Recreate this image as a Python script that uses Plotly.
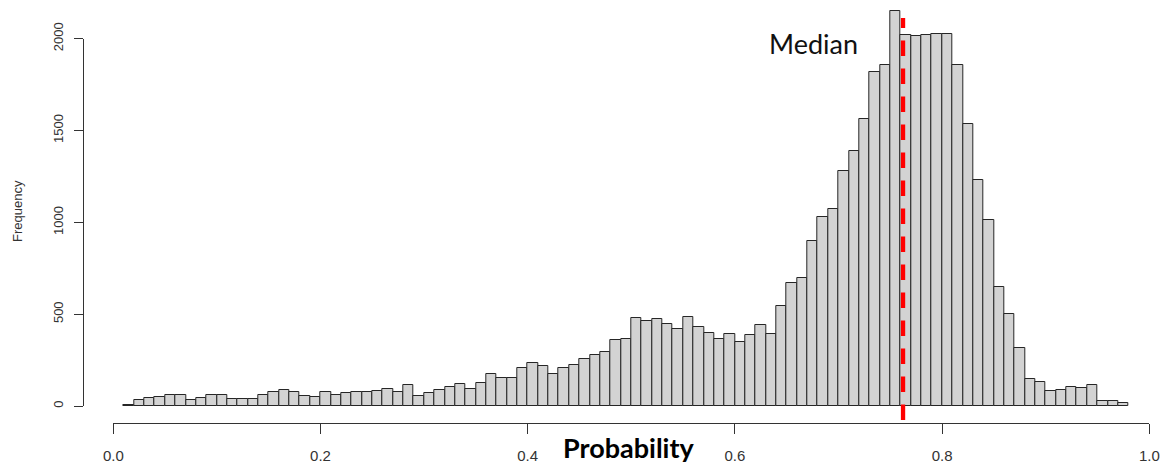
import plotly.graph_objects as go

# ---- data ----
bin_start = 0.01
bin_width = 0.01
counts = [4, 31, 44, 49, 58, 58, 31, 42, 58, 58,
          36, 36, 36, 58, 75, 87, 75, 55, 49, 75,
          58, 69, 75, 75, 84, 93, 75, 115, 53, 69,
          87, 104, 118, 93, 126, 175, 153, 153, 208, 235,
          219, 175, 208, 225, 254, 279, 295, 361, 366, 481,
          464, 475, 448, 421, 486, 432, 399, 366, 393, 350,
          384, 443, 394, 546, 672, 699, 898, 1029, 1073, 1277,
          1388, 1563, 1821, 1855, 2150, 2018, 2013, 2018, 2024, 2024,
          1855, 1535, 1233, 1013, 650, 503, 314, 146, 129, 80,
          86, 104, 97, 115, 26, 26, 15]
centers = [round(bin_start + bin_width * (i + 0.5), 4) for i in range(len(counts))]
median_value = 0.7623
x_ticks = [0.0, 0.2, 0.4, 0.6, 0.8, 1.0]
x_tick_labels = ["0.0", "0.2", "0.4", "0.6", "0.8", "1.0"]
y_ticks = [0, 500, 1000, 1500, 2000]
y_tick_labels = ["0", "500", "1000", "1500", "2000"]

# ---- pixel layout helpers (screen pixels, page has an 8px body margin) ----
OFF = 8
W, H = 1168 - OFF, 466 - OFF
x0_px, x1_px = 113.3, 1149.3       # x=0 and x=1
y0_px, y2000_px = 406.0, 38.7      # count 0 and 2000
k = (y0_px - y2000_px) / 2000.0    # px per count
xaxis_px = 423.0                   # x axis line
yaxis_px = 83.3                    # y axis line

def fx(px):
    return (px - OFF) / W

def fy(py):
    return (H - (py - OFF)) / H

main_bottom = -(xaxis_px - y0_px) / k
main_top = (y0_px - OFF) / k

fig = go.Figure()
fig.add_trace(go.Bar(
    x=centers, y=counts, width=bin_width,
    marker=dict(color="#d3d3d3", line=dict(color="#262626", width=1)),
    xaxis="x", yaxis="y", showlegend=False, hoverinfo="x+y",
))
# dummy trace to render the detached frequency axis
fig.add_trace(go.Scatter(x=[None], y=[None], xaxis="x", yaxis="y2",
                         showlegend=False, hoverinfo="skip"))

fig.add_shape(type="line", xref="x", yref="y",
              x0=median_value, x1=median_value,
              y0=-(420 - y0_px) / k, y1=(y0_px - 18) / k,
              line=dict(color="#ff0000", width=4.3, dash="15.5px,12.5px"))

fig.add_annotation(text="Median", xref="paper", yref="paper",
                   x=fx(813.3), y=fy(44), showarrow=False,
                   xanchor="center", yanchor="middle",
                   font=dict(family="Lato", size=27, color="#111"))
fig.add_annotation(text="<b>Probability</b>", xref="paper", yref="paper",
                   x=fx(629), y=fy(447), showarrow=False,
                   xanchor="center", yanchor="middle",
                   font=dict(family="Lato", size=27, color="#000"))
fig.add_annotation(text="Frequency", xref="paper", yref="paper",
                   x=fx(17), y=fy(211), showarrow=False, textangle=-90,
                   xanchor="center", yanchor="middle",
                   font=dict(family="Liberation Sans", size=13, color="#333"))

fig.update_layout(
    width=W, height=H,
    margin=dict(l=0, r=0, t=0, b=0, autoexpand=False),
    paper_bgcolor="white", plot_bgcolor="rgba(0,0,0,0)",
    bargap=0,
    xaxis=dict(domain=[fx(x0_px), fx(x1_px)], range=[0, 1],
               tickmode="array", tickvals=x_ticks, ticktext=x_tick_labels,
               ticks="outside", ticklen=10, tickwidth=1, tickcolor="#333",
               showline=True, linecolor="#333", linewidth=1,
               showgrid=False, zeroline=False, automargin=False,
               ticklabelstandoff=9,
               tickfont=dict(family="Liberation Sans", size=15, color="#333"),
               anchor="y"),
    yaxis=dict(domain=[fy(xaxis_px), 1], range=[main_bottom, main_top],
               visible=False, showgrid=False, zeroline=False, automargin=False),
    yaxis2=dict(domain=[fy(y0_px), fy(y2000_px)], range=[0, 2000],
                anchor="free", position=fx(yaxis_px),
                tickmode="array", tickvals=y_ticks, ticktext=y_tick_labels,
                ticks="outside", ticklen=9, tickwidth=1, tickcolor="#333",
                showline=True, linecolor="#333", linewidth=1,
                showgrid=False, zeroline=False, tickangle=-90,
                ticklabelstandoff=6, automargin=False,
                tickfont=dict(family="Liberation Sans", size=13, color="#333")),
)

fig.write_html("out.html")
